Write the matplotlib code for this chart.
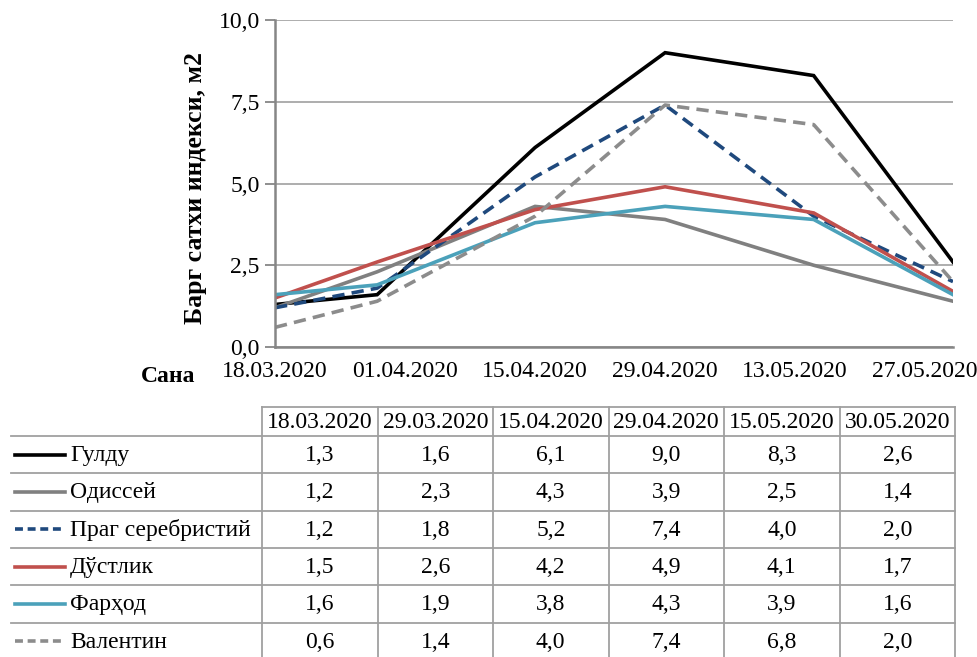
import matplotlib
matplotlib.use('Agg')
import matplotlib.pyplot as plt
import matplotlib.dates as mdates
import pandas as pd

plt.rcParams['font.family'] = 'serif'
plt.rcParams['font.serif'] = ['Liberation Serif', 'DejaVu Serif']

dates = ['18.03.2020', '29.03.2020', '15.04.2020', '29.04.2020', '15.05.2020', '30.05.2020']
tick_dates = ['18.03.2020', '01.04.2020', '15.04.2020', '29.04.2020', '13.05.2020', '27.05.2020']
names = ['Гулду', 'Одиссей', 'Праг серебристий', 'Дўстлик', 'Фарҳод', 'Валентин']
gulbu = [1.3, 1.6, 6.1, 9.0, 8.3, 2.6]
odissey = [1.2, 2.3, 4.3, 3.9, 2.5, 1.4]
prag = [1.2, 1.8, 5.2, 7.4, 4.0, 2.0]
dustlik = [1.5, 2.6, 4.2, 4.9, 4.1, 1.7]
farhod = [1.6, 1.9, 3.8, 4.3, 3.9, 1.6]
valentin = [0.6, 1.4, 4.0, 7.4, 6.8, 2.0]
series = [gulbu, odissey, prag, dustlik, farhod, valentin]

colors = ['#000000', '#808080', '#1F497D', '#C0504D', '#4BA1BA', '#8C8C8C']
styles = ['solid', 'solid', 'dash', 'solid', 'solid', 'dash']

def fmt(v):
    return f"{v:.1f}".replace('.', ',')

x = pd.to_datetime(dates, format='%d.%m.%Y')
xt = pd.to_datetime(tick_dates, format='%d.%m.%Y')

W, H = 977, 657
fig = plt.figure(figsize=(W / 100, H / 100), dpi=100)

# chart area
l, r, t, b = 275, 953, 20, 347
ax = fig.add_axes([l / W, 1 - b / H, (r - l) / W, (b - t) / H])
lw = 2.6
for vals, c, s in zip(series, colors, styles):
    line, = ax.plot(x, vals, color=c, lw=lw, solid_joinstyle='miter')
    if s == 'dash':
        line.set_dashes((3.4, 2.0))

ax.set_xlim(x[0], x[-1])
ax.set_ylim(0, 10)
ax.set_yticks([0, 2.5, 5, 7.5, 10])
ax.set_yticklabels([fmt(v) for v in [0, 2.5, 5, 7.5, 10]], fontsize=17)
ax.set_xticks(xt)
ax.xaxis.set_major_formatter(mdates.DateFormatter('%d.%m.%Y'))
ax.tick_params(axis='x', length=0, labelsize=17, pad=10)
ax.tick_params(axis='y', length=7, width=1.3, color='#868686', pad=4)
ax.grid(axis='y', color='#A0A0A0', lw=1.2)
ax.set_axisbelow(True)
for sp in ['top', 'right']:
    ax.spines[sp].set_visible(False)
for sp in ['left', 'bottom']:
    ax.spines[sp].set_color('#868686')
    ax.spines[sp].set_linewidth(1.8)
ax.set_ylabel('Барг сатхи индекси, м2', fontsize=18.5, fontweight='bold')
ax.yaxis.set_label_coords(-0.100, 0.486)

# table area drawn in pixel coords
tb = fig.add_axes([0, 0, 1, 1], zorder=-1)
tb.set_xlim(0, W)
tb.set_ylim(H, 0)
tb.axis('off')

tb.text(195, 377, 'Сана', fontsize=17, fontweight='bold', ha='right', va='center')

gc = '#A0A0A0'
col_x = [262 + i * (955 - 262) / 6 for i in range(7)]
top = 407
row_y = [436 + i * 37.3 for i in range(6)]
tb.plot([col_x[0], col_x[-1]], [top, top], color=gc, lw=1.3)
for yy in row_y:
    tb.plot([11, col_x[-1]], [yy, yy], color=gc, lw=1.3)
for xx in col_x:
    tb.plot([xx, xx], [top, H], color=gc, lw=1.3)

for j, d in enumerate(dates):
    tb.text((col_x[j] + col_x[j + 1]) / 2, (top + row_y[0]) / 2 + 1, d,
            fontsize=17, ha='center', va='center')

for i, (name, vals, c, s) in enumerate(zip(names, series, colors, styles)):
    yc = row_y[i] + 18.6
    line, = tb.plot([15, 65], [yc, yc], color=c, lw=lw)
    if s == 'dash':
        line.set_dashes((2.2, 1.3))
    tb.text(70, yc + 1, name, fontsize=17, ha='left', va='center')
    for j, v in enumerate(vals):
        tb.text((col_x[j] + col_x[j + 1]) / 2, yc + 1, fmt(v),
                fontsize=17, ha='center', va='center')

fig.savefig('out.png', dpi=100)
